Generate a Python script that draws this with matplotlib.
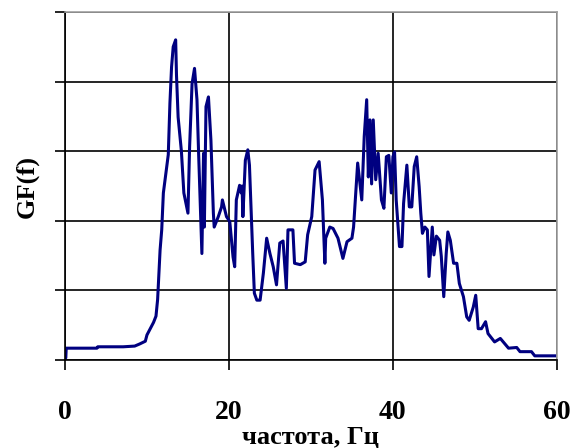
import numpy as np
import matplotlib.pyplot as plt

plt.rcParams['font.family'] = ['Liberation Serif', 'DejaVu Serif']

# frequency, Hz
freq = [0.0, 0.1, 0.15, 3.9, 4.0, 7.1, 8.5, 9.1, 9.8, 10.0, 10.4, 10.8, 11.1, 11.3,
        11.4, 11.6, 11.8, 12.0, 12.3, 12.6, 12.8, 13.0, 13.2, 13.5, 13.6, 13.8, 14.2,
        14.5, 15.0, 15.2, 15.5, 15.8, 16.1, 16.3, 16.7, 16.9, 17.0, 17.2, 17.5, 17.8,
        18.1, 18.2, 18.7, 19.1, 19.2, 19.7, 20.1, 20.5, 20.7, 20.9, 21.3, 21.5, 21.6,
        21.7, 22.0, 22.3, 22.5, 22.9, 23.1, 23.4, 23.8, 24.2, 24.6, 25.0, 25.4, 25.8,
        26.2, 26.6, 27.0, 27.2, 27.8, 28.0, 28.7, 29.3, 29.6, 30.1, 30.5, 31.0, 31.4,
        31.7, 31.8, 32.3, 32.7, 33.3, 33.9, 34.4, 35.0, 35.2, 35.5, 35.7, 36.2, 36.5,
        36.8, 37.0, 37.2, 37.4, 37.6, 37.9, 38.2, 38.6, 38.9, 39.2, 39.5, 39.8, 40.0,
        40.2, 40.4, 40.8, 41.1, 41.3, 41.7, 42.0, 42.3, 42.6, 42.9, 43.2, 43.4, 43.6,
        43.9, 44.2, 44.4, 44.8, 45.0, 45.3, 45.7, 45.9, 46.2, 46.5, 46.7, 47.0, 47.4,
        47.8, 48.1, 48.6, 49.0, 49.3, 49.8, 50.1, 50.4, 50.8, 51.3, 51.6, 52.4, 53.1,
        54.1, 55.1, 55.5, 56.9, 57.3, 60.0]
gf = [0.03, 0.03, 0.17, 0.17, 0.19, 0.19, 0.2, 0.23, 0.27, 0.36, 0.45, 0.54, 0.63, 0.87,
      1.1, 1.58, 1.87, 2.4, 2.68, 2.95, 3.69, 4.21, 4.5, 4.6, 4.1, 3.49, 3.0,
      2.4, 2.11, 3.06, 3.97, 4.19, 3.74, 2.97, 1.53, 2.97, 1.91, 3.64, 3.78, 3.16,
      2.11, 1.91, 2.06, 2.2, 2.3, 2.06, 1.99, 1.48, 1.34, 2.3, 2.51, 2.4, 2.5,
      2.06, 2.87, 3.02, 2.8, 1.53, 0.96, 0.86, 0.86, 1.25, 1.75, 1.53, 1.34, 1.08,
      1.68, 1.71, 1.03, 1.87, 1.87, 1.39, 1.37, 1.41, 1.8, 2.06, 2.73, 2.85, 2.3,
      1.39, 1.75, 1.91, 1.89, 1.75, 1.46, 1.7, 1.75, 1.91, 2.47, 2.83, 2.3, 3.21,
      3.74, 2.63, 3.45, 2.53, 3.45, 2.59, 2.97, 2.3, 2.18, 2.92, 2.94, 2.4, 2.92,
      2.99, 2.3, 1.63, 1.63, 2.25, 2.8, 2.2, 2.2, 2.78, 2.92, 2.49, 2.11, 1.82,
      1.91, 1.87, 1.2, 1.91, 1.51, 1.78, 1.72, 1.49, 0.91, 1.53, 1.84, 1.72, 1.39,
      1.39, 1.1, 0.91, 0.62, 0.57, 0.76, 0.93, 0.45, 0.45, 0.55, 0.38, 0.26, 0.31,
      0.17, 0.18, 0.12, 0.12, 0.06, 0.06]

fig = plt.figure(figsize=(5.74, 4.48), dpi=100)
ax = fig.add_axes([0.1132, 0.1964, 0.857, 0.7768])

ax.plot(freq, gf, color='#000080', lw=2.2)

ax.set_xlim(0, 60)
ax.set_ylim(0, 5)
ax.set_xticks([0, 20, 40, 60])
ax.set_yticks([0, 1, 2, 3, 4, 5])
ax.set_yticklabels([])
ax.grid(True, color='black', lw=1.2)
ax.set_axisbelow(True)

for s in ['top', 'right']:
    ax.spines[s].set_color('#a0a0a0')
    ax.spines[s].set_linewidth(1.2)
for s in ['left', 'bottom']:
    ax.spines[s].set_color('black')
    ax.spines[s].set_linewidth(1.2)

ax.tick_params(axis='x', direction='out', length=7.5, width=1.2, pad=21, labelsize=20)
ax.tick_params(axis='y', direction='out', length=7.5, width=1.2)
for lbl in ax.get_xticklabels():
    lbl.set_fontweight('bold')

ax.set_xlabel('частота, Гц', fontsize=19, fontweight='bold', labelpad=1)
ax.set_ylabel('GF(f)', fontsize=19, fontweight='bold', labelpad=8)

fig.savefig('out.png', dpi=100)
